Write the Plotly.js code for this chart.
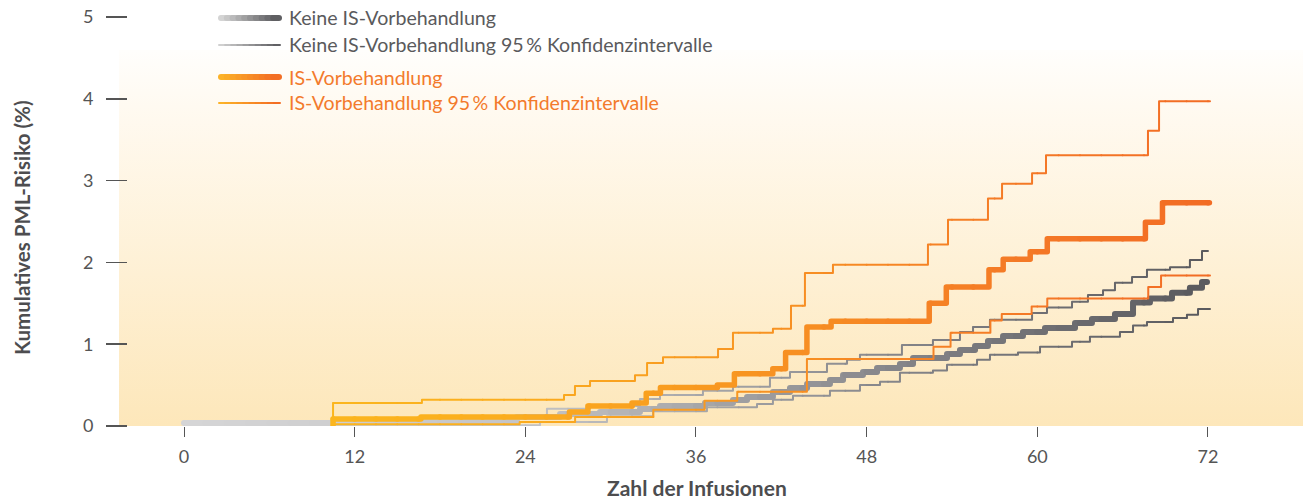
<!DOCTYPE html>
<html><head><meta charset="utf-8">
<script src="https://cdn.plot.ly/plotly-3.0.1.min.js"></script>
<style>
html,body{margin:0;padding:0;background:#fff;}
#chart{width:1303px;height:501px;}
#chart .scatterlayer path.js-line, #chart .shapelayer path{stroke-linecap:round;stroke-linejoin:round;}
</style>
</head><body><div id="chart"></div>
<script>
// ---------- DATA ----------
const xTickVals = [0, 12, 24, 36, 48, 60, 72];
const yTickVals = [0, 1, 2, 3, 4, 5];
const legendLabels = [
  "Keine IS-Vorbehandlung",
  "Keine IS-Vorbehandlung 95\u2009% Konfidenzintervalle",
  "IS-Vorbehandlung",
  "IS-Vorbehandlung 95\u2009% Konfidenzintervalle"
];
const xTitle = "Zahl der Infusionen";
const yTitle = "Kumulatives PML-Risiko (%)";

// Keine IS-Vorbehandlung (step x where level starts, level)
const keineX = [0, 16.59, 23.41, 26.44, 29.25, 32.06, 33.47, 36.63, 38.60, 39.59, 41.41, 42.61, 43.81, 45.42, 46.34, 47.74, 48.73, 50.34, 51.26, 53.65, 54.56, 55.62, 56.53, 57.59, 58.99, 60.54, 62.65, 63.84, 65.46, 66.73, 67.92, 69.47, 70.73, 71.58, 71.93];
const keineY = [0.037, 0.061, 0.11, 0.147, 0.171, 0.208, 0.245, 0.281, 0.318, 0.355, 0.416, 0.465, 0.513, 0.562, 0.623, 0.66, 0.709, 0.758, 0.831, 0.88, 0.929, 0.978, 1.039, 1.10, 1.149, 1.198, 1.259, 1.308, 1.369, 1.51, 1.56, 1.63, 1.69, 1.76, 1.76];
// Keine IS-Vorbehandlung upper 95% CI
const keineHiX = [0, 16.59, 23.41, 25.52, 28.55, 32.06, 33.47, 36.49, 38.60, 41.20, 42.61, 45.21, 46.62, 47.53, 50.48, 52.66, 54.56, 55.48, 56.67, 59.63, 60.68, 62.44, 63.56, 64.62, 65.46, 66.66, 67.71, 69.33, 70.73, 71.58, 72.0];
const keineHiY = [0.025, 0.06, 0.135, 0.21, 0.245, 0.33, 0.38, 0.43, 0.48, 0.59, 0.66, 0.76, 0.81, 0.87, 0.99, 1.05, 1.15, 1.21, 1.30, 1.38, 1.45, 1.52, 1.60, 1.66, 1.75, 1.82, 1.91, 1.94, 2.03, 2.14, 2.14];
// Keine IS-Vorbehandlung lower 95% CI
const keineLoX = [0, 25.03, 29.74, 32.98, 36.77, 40.29, 41.41, 42.82, 45.42, 47.53, 48.94, 50.34, 52.66, 53.65, 55.76, 56.67, 58.64, 60.19, 62.44, 63.70, 65.81, 66.73, 67.71, 69.54, 70.52, 71.30, 72.14];
const keineLoY = [0.01, 0.05, 0.12, 0.18, 0.23, 0.27, 0.32, 0.37, 0.43, 0.50, 0.54, 0.65, 0.68, 0.75, 0.81, 0.87, 0.90, 0.97, 1.03, 1.09, 1.15, 1.23, 1.27, 1.32, 1.36, 1.43, 1.43];

// IS-Vorbehandlung
const isX = [10.48, 10.48, 16.66, 27.1, 28.4, 31.5, 32.5, 33.5, 37.5, 38.7, 41.4, 42.3, 43.8, 45.5, 52.4, 53.6, 56.6, 57.6, 59.5, 60.7, 67.6, 68.8, 72.1];
const isY = [0, 0.085, 0.11, 0.17, 0.245, 0.28, 0.40, 0.47, 0.50, 0.64, 0.70, 0.90, 1.21, 1.28, 1.50, 1.70, 1.91, 2.04, 2.13, 2.29, 2.49, 2.73, 2.73];
// IS-Vorbehandlung upper 95% CI
const isHiX = [10.48, 10.48, 16.73, 26.72, 27.49, 28.55, 31.71, 32.56, 33.68, 37.55, 38.60, 41.41, 42.68, 43.66, 45.63, 52.31, 53.72, 56.53, 57.52, 59.63, 60.61, 67.78, 68.56, 72.14];
const isHiY = [0, 0.28, 0.32, 0.38, 0.49, 0.55, 0.62, 0.77, 0.84, 0.94, 1.14, 1.19, 1.47, 1.87, 1.97, 2.22, 2.52, 2.78, 2.96, 3.09, 3.31, 3.61, 3.97, 3.97];
// IS-Vorbehandlung lower 95% CI
const isLoX = [10.48, 10.48, 23.6, 27.5, 33.0, 36.6, 38.9, 43.8, 52.7, 53.9, 56.7, 57.5, 59.6, 60.7, 67.8, 68.7, 72.14];
const isLoY = [0, 0.02, 0.05, 0.11, 0.20, 0.31, 0.42, 0.82, 0.97, 1.14, 1.29, 1.37, 1.46, 1.56, 1.70, 1.84, 1.84];

// ---------- STYLE ----------
const grayStops = [[0, [214,214,214]], [24, [196,196,198]], [36, [168,168,170]], [48, [138,138,142]], [60, [112,112,116]], [72, [90,90,94]]];
const orangeStops = [[10, [251,182,30]], [24, [251,172,30]], [36, [248,154,32]], [48, [246,136,36]], [60, [244,120,38]], [72, [242,108,36]]];
const FONT = "Lato, 'Open Sans', sans-serif";

function colorAt(stops, x) {
  if (x <= stops[0][0]) return stops[0][1];
  for (let i = 1; i < stops.length; i++) {
    if (x <= stops[i][0]) {
      const t = (x - stops[i-1][0]) / (stops[i][0] - stops[i-1][0]);
      return stops[i-1][1].map((c, k) => Math.round(c + t * (stops[i][1][k] - c)));
    }
  }
  return stops[stops.length - 1][1];
}
const rgb = c => `rgb(${c[0]},${c[1]},${c[2]})`;

// Split a step series into short pieces so that its colour can run along x.
function gradientStepTraces(xs, ys, stops, width, segW) {
  const v = [];
  for (let i = 0; i < xs.length; i++) {
    if (i > 0) v.push([xs[i], ys[i-1]]);
    v.push([xs[i], ys[i]]);
  }
  const pts = [v[0]];
  for (let i = 1; i < v.length; i++) {
    const a = v[i-1], b = v[i];
    if (a[1] === b[1] && b[0] > a[0]) {
      let k = Math.floor(a[0] / segW) + 1;
      while (k * segW < b[0]) { pts.push([k * segW, a[1]]); k++; }
    }
    pts.push(b);
  }
  const pieces = [];
  let cur = null, curK = null;
  for (let i = 1; i < pts.length; i++) {
    const a = pts[i-1], b = pts[i];
    const mid = (a[0] + b[0]) / 2;
    const k = Math.floor(mid / segW);
    if (k !== curK) {
      cur = {k: k, p: [a]};
      pieces.push(cur); curK = k;
    }
    cur.p.push(b);
  }
  return pieces.map(pc => ({
    type: 'scatter', mode: 'lines',
    x: pc.p.map(p => p[0]), y: pc.p.map(p => p[1]),
    line: {color: rgb(colorAt(stops, (pc.k + 0.5) * segW)), width: width, shape: 'linear'},
    hoverinfo: 'skip', showlegend: false
  }));
}

const traces = [].concat(
  gradientStepTraces(keineLoX, keineLoY, grayStops, 2, 1.5),
  gradientStepTraces(keineHiX, keineHiY, grayStops, 2, 1.5),
  gradientStepTraces(keineX, keineY, grayStops, 6, 1.5),
  gradientStepTraces(isLoX, isLoY, orangeStops, 2, 1.5),
  gradientStepTraces(isHiX, isHiY, orangeStops, 2, 1.5),
  gradientStepTraces(isX, isY, orangeStops, 5.5, 1.5)
);

// ---------- LAYOUT ----------
const W = 1303, H = 501, ML = 128, MR = 0, MT = 17, MB = 75;
const PW = W - ML - MR, PH = H - MT - MB;
const px2paperX = px => (px - ML) / PW;
const px2paperY = py => (H - MB - py) / PH;

const bgSvg = '<svg xmlns="http://www.w3.org/2000/svg" width="100" height="100" preserveAspectRatio="none">' +
  '<defs><linearGradient id="g" x1="0" y1="0" x2="0" y2="1">' +
  '<stop offset="0" stop-color="#fffefc"/><stop offset="0.15" stop-color="#fffaf1"/>' +
  '<stop offset="1" stop-color="#fde7ba"/></linearGradient></defs>' +
  '<rect width="100" height="100" fill="url(#g)"/></svg>';

const shapes = [];
function legendSample(y, x0, x1, width, light, dark) {
  const n = 10;
  for (let i = 0; i < n; i++) {
    const t = (i + 0.5) / n;
    const c = light.map((v, k) => Math.round(v + t * (dark[k] - v)));
    shapes.push({type: 'line', xref: 'paper', yref: 'paper',
      x0: px2paperX(x0 + (x1 - x0) * i / n), x1: px2paperX(x0 + (x1 - x0) * (i + 1) / n),
      y0: px2paperY(y), y1: px2paperY(y), line: {color: rgb(c), width: width}});
  }
}
legendSample(18, 221, 279, 6, [218,218,218], [88,88,92]);
legendSample(45, 219, 280, 2, [214,214,214], [90,90,94]);
legendSample(77, 221, 279, 6, [252,182,40], [242,106,36]);
legendSample(103, 219, 280, 2, [252,182,40], [242,106,36]);

const legendRows = [18, 45, 77, 103];
const legendColors = ['#5a5a5c', '#5a5a5c', '#f37a2c', '#f37a2c'];
const annotations = legendLabels.map((t, i) => ({
  text: t, xref: 'paper', yref: 'paper', x: px2paperX(287), y: px2paperY(legendRows[i]),
  xanchor: 'left', yanchor: 'middle', showarrow: false,
  font: {family: FONT, size: 19.6, color: legendColors[i]}
}));
annotations.push({text: '<b>' + xTitle + '</b>', xref: 'paper', yref: 'paper',
  x: px2paperX(697), y: px2paperY(487), xanchor: 'center', yanchor: 'middle', showarrow: false,
  font: {family: FONT, size: 21, color: '#4d4d4f'}});
annotations.push({text: '<b>' + yTitle + '</b>', xref: 'paper', yref: 'paper',
  x: px2paperX(22), y: px2paperY(228), xanchor: 'center', yanchor: 'middle', showarrow: false,
  textangle: -90, font: {family: FONT, size: 20.5, color: '#4d4d4f'}});

const layout = {
  width: W, height: H,
  margin: {l: ML, r: MR, t: MT, b: MB, pad: 0},
  paper_bgcolor: '#ffffff', plot_bgcolor: 'rgba(0,0,0,0)',
  showlegend: false,
  font: {family: FONT, color: '#555555'},
  xaxis: {range: [(128 - 184) / 14.222, (1303 - 184) / 14.222], tickvals: xTickVals,
    ticktext: xTickVals.map(String),
    ticks: 'outside', ticklen: 10, tickwidth: 1, tickcolor: '#555555',
    showgrid: false, zeroline: false, showline: false, fixedrange: true,
    tickfont: {family: FONT, size: 18, color: '#555555'}, ticklabelstandoff: 4},
  yaxis: {range: [0, 5], tickvals: yTickVals, ticktext: yTickVals.map(String),
    ticks: 'outside', ticklen: 21, tickwidth: 1.5, tickcolor: '#555555',
    showgrid: false, zeroline: false, showline: false, fixedrange: true,
    tickfont: {family: FONT, size: 18, color: '#555555'}, ticklabelstandoff: 9},
  images: [{source: 'data:image/svg+xml;base64,' + btoa(bgSvg), xref: 'paper', yref: 'paper',
    x: px2paperX(119), y: px2paperY(50), sizex: (1303 - 119) / PW, sizey: (426 - 50) / PH,
    xanchor: 'left', yanchor: 'top', sizing: 'stretch', layer: 'below'}],
  shapes: shapes,
  annotations: annotations
};

Plotly.newPlot('chart', traces, layout, {displayModeBar: false, staticPlot: true});
</script></body></html>
